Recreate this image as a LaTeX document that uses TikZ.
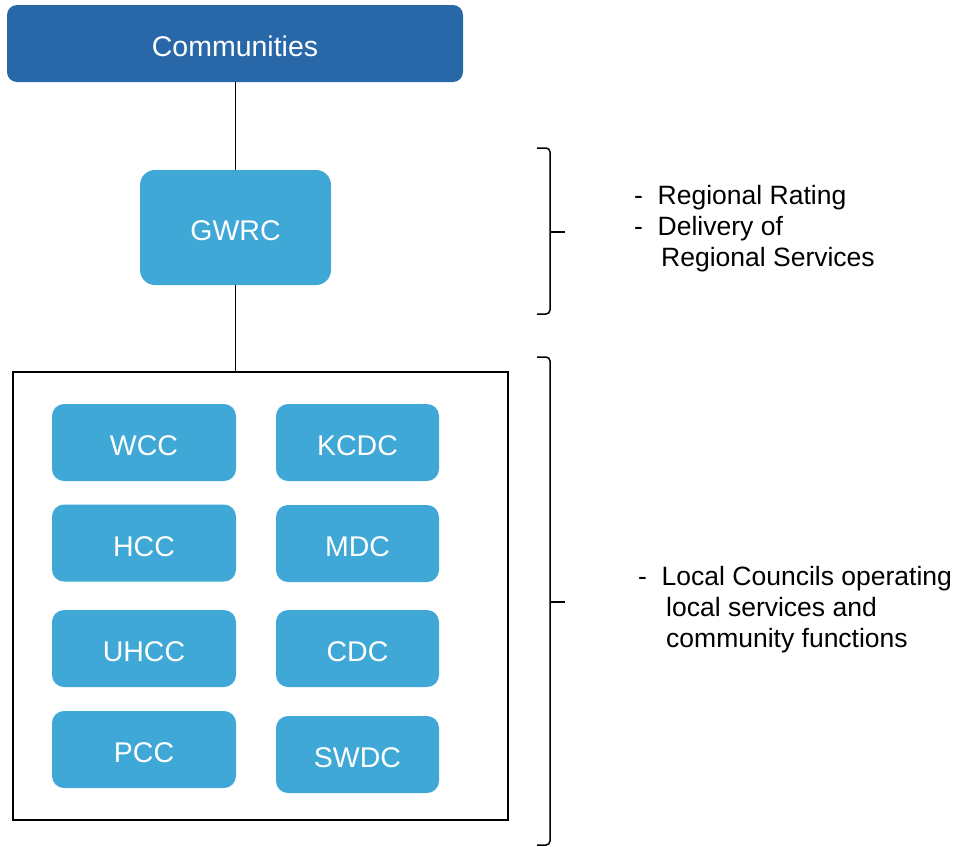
\documentclass[tikz,border=0pt]{standalone}
\usepackage{fontspec}
\setmainfont{Liberation Sans}
\definecolor{topblue}{HTML}{2968A8}
\definecolor{unitblue}{HTML}{3FA8D6}

\begin{document}
\begin{tikzpicture}[x=1pt,y=-1pt,
  topbox/.style={fill=topblue, draw=none, rounded corners=10pt, text=white, inner sep=0pt,
    text height=26.4pt, text depth=0pt, font=\fontsize{28.5}{34}\selectfont},
  unit/.style={fill=unitblue, draw=none, rounded corners=12pt, text=white, inner sep=0pt,
    text height=26pt, text depth=0pt, minimum height=77pt, font=\fontsize{28.5}{34}\selectfont},
  leftcol/.style={unit, minimum width=184pt},
  rightcol/.style={unit, minimum width=163pt},
  brace/.style={line width=1.5pt, rounded corners=4pt},
  note/.style={anchor=west, align=left, inner sep=0pt, font=\fontsize{26.5}{31}\selectfont}]
\useasboundingbox (0,0) rectangle (953,846);

% top level
\node[topbox, minimum width=456pt, minimum height=77pt] (comm) at (235,43.5) {Communities};
\node[unit, minimum width=191pt, minimum height=115pt, rounded corners=15pt] (gwrc) at (235.5,227.5) {GWRC};

% frame round the local councils
\node[draw, line width=1.5pt, minimum width=495pt, minimum height=448pt, inner sep=0pt] (frame) at (260.5,596) {};

% local councils
\node[leftcol] (wcc) at (144,442.5) {WCC};
\node[rightcol] (kcdc) at (357.5,442.5) {KCDC};
\node[leftcol] (hcc) at (144,543) {HCC};
\node[rightcol] (mdc) at (357.5,543.5) {MDC};
\node[leftcol] (uhcc) at (144,648.5) {UHCC};
\node[rightcol] (cdc) at (357.5,648.5) {CDC};
\node[leftcol] (pcc) at (144,749.5) {PCC};
\node[rightcol] (swdc) at (357.5,754.5) {SWDC};

% connectors
\draw[line width=1.5pt] (comm.south -| gwrc.north) -- (gwrc.north);
\draw[line width=1.5pt] (gwrc.south) -- (gwrc.south |- frame.north);

% braces
\draw[brace] (537,148) -- (550,148) -- (550,232) -- (550,314) -- (537,314);
\draw[line width=1.5pt] (550,232) -- (565,232);
\draw[brace] (537,357) -- (550,357) -- (550,602) -- (550,845) -- (537,845);
\draw[line width=1.5pt] (550,602) -- (565,602);

% notes
\node[note] (regnote) at (634,229) {-~~Regional Rating\\-~~Delivery of\\\hspace*{27pt}Regional Services};
\node[note] (locnote) at (638,610) {-~~Local Councils operating\\\hspace*{28pt}local services and\\\hspace*{28pt}community functions};
\end{tikzpicture}
\end{document}
